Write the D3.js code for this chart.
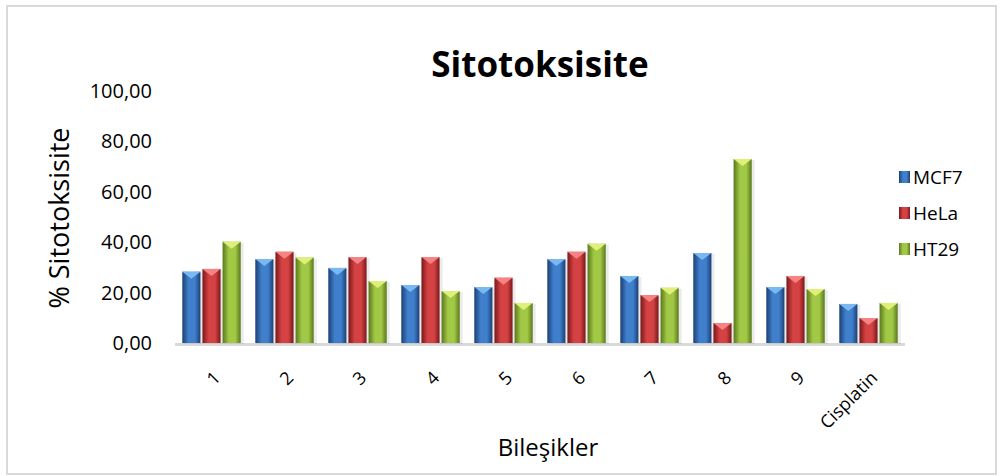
<!DOCTYPE html>
<html>
<head>
<meta charset="utf-8">
<script src="https://cdn.jsdelivr.net/npm/d3@7"></script>
<style>
  body { margin: 0; background: #fff; }
  svg text { font-family: "Open Sans", "Noto Sans", sans-serif; fill: #000; }
</style>
</head>
<body>
<div id="chart"></div>
<script>
const categories = ['1', '2', '3', '4', '5', '6', '7', '8', '9', 'Cisplatin'];
const seriesNames = ['MCF7', 'HeLa', 'HT29'];
const mcf7 = [28.3, 33.3, 29.8, 23.0, 22.2, 33.3, 26.6, 35.7, 22.2, 15.5];
const hela = [29.4, 36.2, 34.1, 34.1, 25.9, 36.2, 19.0, 7.9, 26.6, 9.9];
const ht29 = [40.2, 33.9, 24.6, 20.6, 15.9, 39.4, 21.9, 73.0, 21.4, 15.9];
const yTicks = [0, 20, 40, 60, 80, 100];

const width = 1003, height = 476;
const margin = { top: 91, right: 98, bottom: 133, left: 175 };

const seriesValues = [mcf7, hela, ht29];
const data = categories.map((c, i) => ({ cat: c, vals: seriesNames.map((s, j) => ({ key: s, v: seriesValues[j][i] })) }));

const palette = {
  MCF7: { edge: '#1b4073', mid: '#3f7fcc', top: '#7ab8f2' },
  HeLa: { edge: '#7a1819', mid: '#d54244', top: '#f58384' },
  HT29: { edge: '#5a781c', mid: '#a2c945', top: '#dff07a' }
};

const svg = d3.select('#chart').append('svg')
  .attr('width', width)
  .attr('height', height);

// outer frame
svg.append('rect')
  .attr('x', 7).attr('y', 6)
  .attr('width', width - 14).attr('height', height - 8)
  .attr('fill', '#fff')
  .attr('stroke', '#d9d9d9')
  .attr('stroke-width', 2);

const defs = svg.append('defs');
seriesNames.forEach(s => {
  const g = defs.append('linearGradient').attr('id', 'grad-' + s)
    .attr('x1', '0%').attr('x2', '100%').attr('y1', '0%').attr('y2', '0%');
  g.append('stop').attr('offset', '0%').attr('stop-color', palette[s].edge);
  g.append('stop').attr('offset', '35%').attr('stop-color', palette[s].mid);
  g.append('stop').attr('offset', '70%').attr('stop-color', palette[s].mid);
  g.append('stop').attr('offset', '100%').attr('stop-color', palette[s].edge);
});

const plotW = width - margin.left - margin.right;
const plotH = height - margin.top - margin.bottom;

const x = d3.scaleBand()
  .domain(categories)
  .range([0, plotW])
  .paddingInner(0.2)
  .paddingOuter(0.1);

const xs = d3.scaleBand()
  .domain(seriesNames)
  .range([0, x.bandwidth()])
  .paddingInner(0.1);

const y = d3.scaleLinear()
  .domain([0, 100])
  .range([plotH, 0]);

const g = svg.append('g')
  .attr('transform', `translate(${margin.left},${margin.top})`);

// floor
g.append('rect')
  .attr('x', 0).attr('y', plotH)
  .attr('width', plotW).attr('height', 3)
  .attr('fill', '#d9d9d9');

// y axis labels
const yAxis = g.append('g')
  .call(d3.axisLeft(y).tickValues(yTicks).tickSize(0).tickPadding(23)
    .tickFormat(d => d3.format('.2f')(d).replace('.', ',')));
yAxis.select('.domain').remove();
yAxis.selectAll('text').style('font-size', '20px').attr('fill', '#000');

// x axis labels, rotated
const xAxis = g.append('g')
  .attr('transform', `translate(0,${plotH})`)
  .call(d3.axisBottom(x).tickSize(0).tickPadding(0));
xAxis.select('.domain').remove();
xAxis.selectAll('text')
  .style('font-size', '18px')
  .attr('fill', '#000')
  .attr('text-anchor', 'end')
  .attr('dy', 0)
  .attr('transform', 'translate(10,36) rotate(-45)');

const groups = g.append('g').selectAll('g')
  .data(data)
  .enter().append('g')
  .attr('transform', d => `translate(${x(d.cat)},0)`);

const bars = groups.selectAll('g.bar')
  .data(d => d.vals)
  .enter().append('g')
  .attr('class', 'bar');

// soft shadow
bars.append('rect')
  .attr('x', d => xs(d.key) + 1)
  .attr('y', d => y(d.v) + 1)
  .attr('width', xs.bandwidth() + 2)
  .attr('height', d => plotH - y(d.v))
  .attr('fill', '#000')
  .attr('opacity', 0.08);

bars.append('rect')
  .attr('x', d => xs(d.key))
  .attr('y', d => y(d.v))
  .attr('width', xs.bandwidth())
  .attr('height', d => plotH - y(d.v))
  .attr('fill', d => `url(#grad-${d.key})`);

bars.append('path')
  .attr('d', d => {
    const x0 = xs(d.key), w = xs.bandwidth(), y0 = y(d.v);
    return `M${x0},${y0}L${x0 + w},${y0}L${x0 + w / 2},${y0 + 7}Z`;
  })
  .attr('fill', d => palette[d.key].top);

// titles
svg.append('text')
  .attr('x', 540).attr('y', 77)
  .attr('text-anchor', 'middle')
  .style('font-size', '35px')
  .style('font-weight', 'bold')
  .text('Sitotoksisite');

svg.append('text')
  .attr('transform', `translate(69,218) rotate(-90)`)
  .attr('text-anchor', 'middle')
  .style('font-size', '27px')
  .text('% Sitotoksisite');

svg.append('text')
  .attr('x', 548).attr('y', 456)
  .attr('text-anchor', 'middle')
  .style('font-size', '24px')
  .text('Bileşikler');

// legend
const legend = svg.append('g')
  .selectAll('g')
  .data(seriesNames)
  .enter().append('g')
  .attr('transform', (d, i) => `translate(899,${177 + i * 36})`);

legend.append('rect')
  .attr('x', 0).attr('y', -6)
  .attr('width', 11).attr('height', 12)
  .attr('fill', d => `url(#grad-${d})`);

legend.append('text')
  .attr('x', 14).attr('y', 0)
  .attr('dy', '0.35em')
  .style('font-size', '19px')
  .text(d => d);
</script>
</body>
</html>
